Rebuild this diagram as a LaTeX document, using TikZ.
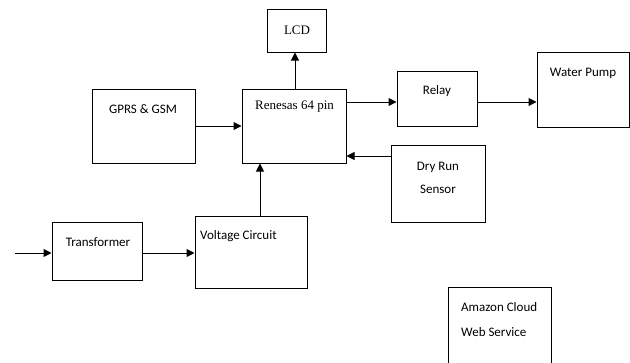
\documentclass[tikz,border=0pt]{standalone}
\usepackage{fontspec}
\setmainfont{Carlito}
\newfontfamily\tnr{Liberation Serif}
\usetikzlibrary{arrows.meta, positioning}

\tikzset{
  blk/.style={draw, line width=1pt, inner sep=0pt},
  txt/.style={inner sep=0pt, font=\fontsize{13}{23}\selectfont, align=center},
  link/.style={line width=1pt, -{Triangle[length=8pt,width=8pt]}}
}

\begin{document}
\begin{tikzpicture}[x=1pt,y=-1pt]
\clip (0,0) rectangle (630,362);
% Blocks
\node[blk, minimum width=59, minimum height=43] (lcd) at (297,30.5) {};
\node[blk, minimum width=103, minimum height=74] (gprs) at (143.5,126) {};
\node[blk, minimum width=104, minimum height=74] (mcu) at (294,126) {};
\node[blk, minimum width=80, minimum height=55] (relay) at (437,98.5) {};
\node[blk, minimum width=92, minimum height=75] (pump) at (583,89.5) {};
\node[blk, minimum width=94, minimum height=77] (dry) at (438,183.5) {};
\node[blk, minimum width=90, minimum height=58] (trans) at (97,251) {};
\node[blk, minimum width=112, minimum height=72] (volt) at (251,252) {};
\node[blk, minimum width=103, minimum height=100] (aws) at (500,337) {};
% Texts
\node[txt, font=\tnr\fontsize{13}{15}\selectfont] (lcd-t) at (297,30) {LCD};
\node[txt] (gprs-t) at (143,109) {GPRS \& GSM};
\node[txt, font=\tnr\fontsize{13}{15}\selectfont, anchor=west] (mcu-t) at (255,107) {Renesas 64 pin};
\node[txt] (relay-t) at (437,91) {Relay};
\node[txt] (pump-t) at (583,73) {Water Pump};
\node[txt] (dry-t) at (438,178) {Dry Run\\Sensor};
\node[txt] (trans-t) at (98,242) {Transformer};
\node[txt, anchor=west] (volt-t) at (200,236) {Voltage Circuit};
\node[txt, anchor=west, align=left, font=\fontsize{13}{25}\selectfont] (aws-t) at (461,320) {Amazon Cloud\\Web Service};
% Links
\coordinate (in) at (15,253);
\draw[link] (in) -- (trans.west |- in);
\draw[link] (trans.east |- in) -- (volt.west |- in);
\draw[link] (volt.north -| 260,0) -- (mcu.south -| 260,0);
\draw[link] (gprs.east) -- (mcu.west);
\draw[link] (mcu.north -| 295,0) -- (lcd.south -| 295,0);
\draw[link] (mcu.east |- 0,102) -- (relay.west |- 0,102);
\draw[link] (relay.east |- 0,102) -- (pump.west |- 0,102);
\draw[link] (dry.west |- 0,156) -- (mcu.east |- 0,156);
\end{tikzpicture}
\end{document}
